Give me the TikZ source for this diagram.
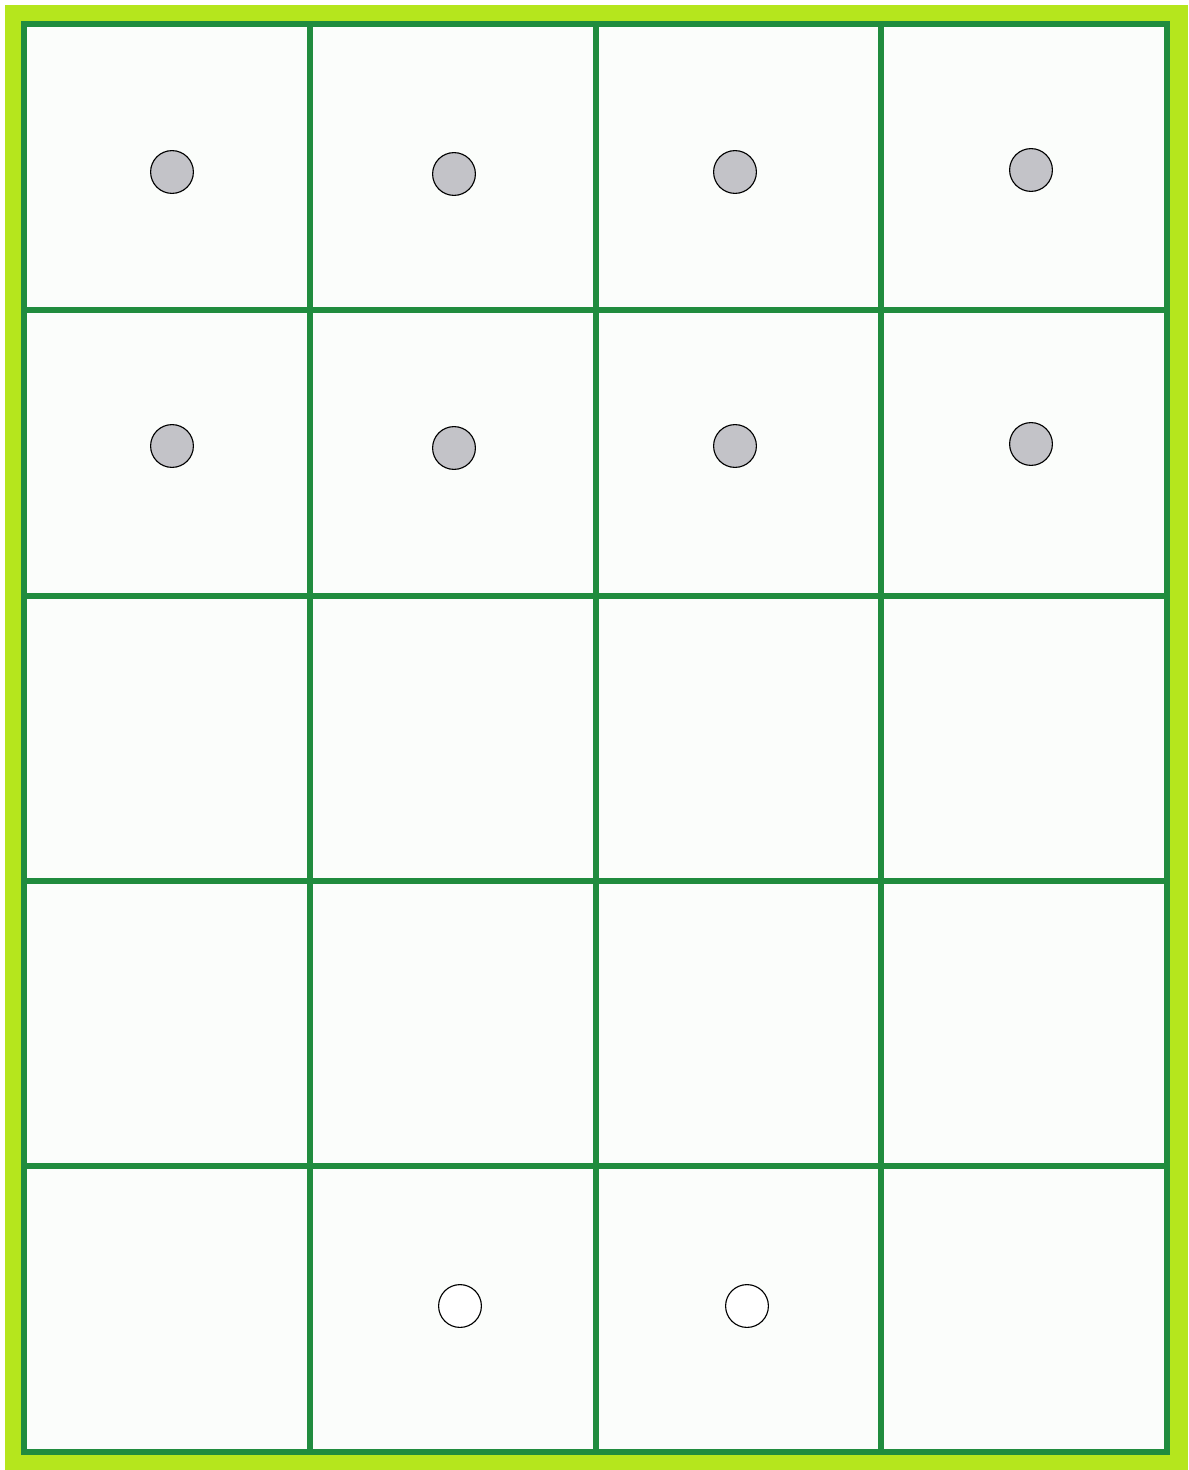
\documentclass[tikz,border=0pt]{standalone}
\usepackage{xcolor}
\usepackage{tikz}
\usetikzlibrary{positioning}
\definecolor{frame}{RGB}{181, 230, 29}
\definecolor{gridline}{RGB}{32, 140, 62}
\definecolor{paper}{RGB}{251, 253, 251}
\definecolor{peg}{RGB}{195, 195, 200}

\begin{document}
\begin{tikzpicture}[
    x=0.025cm, y=-0.025cm,
    hole/.style={circle, draw=black, line width=0.8pt, inner sep=0pt, minimum size=1.07cm},
    fullhole/.style={hole, fill=peg},
    emptyhole/.style={hole, fill=white}
  ]

  % Canvas
  \useasboundingbox (0,0) rectangle (1188,1470);
  \fill[white] (0,0) rectangle (1188,1470);
  \fill[frame] (5,5) rectangle (1188,1470);
  \fill[paper] (24,24) rectangle (1167,1452);

  % Grid
  \foreach \x in {310,596,881} {
    \draw[gridline, line width=4.2pt] (\x,24) -- (\x,1452);
  }
  \foreach \y in {310,596,881,1166} {
    \draw[gridline, line width=4.2pt] (24,\y) -- (1167,\y);
  }
  \draw[gridline, line width=4.2pt] (24,24) rectangle (1167,1452);

  % Filled holes
  \node[fullhole] (a1) at (172,172) {};
  \node[fullhole] (a2) at (454,174) {};
  \node[fullhole] (a3) at (735,172) {};
  \node[fullhole] (a4) at (1031,170) {};
  \node[fullhole] (b1) at (172,446) {};
  \node[fullhole] (b2) at (454,448) {};
  \node[fullhole] (b3) at (735,446) {};
  \node[fullhole] (b4) at (1031,444) {};

  % Empty holes
  \node[emptyhole] (e2) at (460,1306) {};
  \node[emptyhole] (e3) at (747,1306) {};

\end{tikzpicture}
\end{document}
